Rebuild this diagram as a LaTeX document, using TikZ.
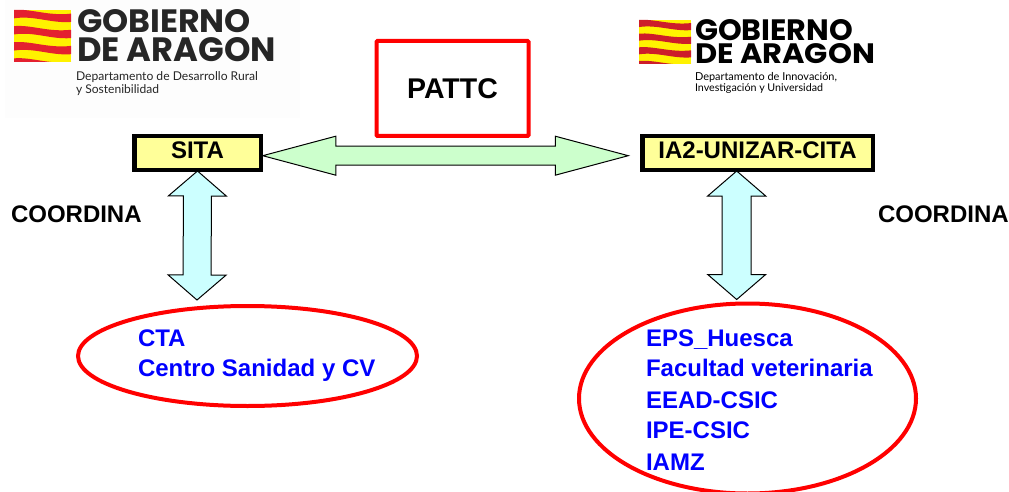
\documentclass[tikz,border=0pt]{standalone}
\usepackage{fontspec}
\usepackage{graphicx}
\setmainfont{Liberation Sans}
\newfontfamily\logofont{Poppins}
\newfontfamily\deptfont{Lato}
\usetikzlibrary{shapes.geometric, calc}

\definecolor{boxyellow}{HTML}{FFFF99}
\definecolor{arrowgreen}{HTML}{CCFFCC}
\definecolor{arrowcyan}{HTML}{CCFFFF}
\definecolor{logoyellow}{HTML}{FFF200}
\definecolor{logored}{HTML}{E4202F}
\definecolor{logoink}{HTML}{262626}
\definecolor{logopaper}{HTML}{FDFDFD}

% tip a, tip b, head length, half head, half shaft, fill
\newcommand{\blockarrow}[6]{
  \draw[black, line width=1pt, line join=miter, fill=#6] (#1)
    -- ($(#1)!#3!(#2)!#4!90:(#2)$) -- ($(#1)!#3!(#2)!#5!90:(#2)$)
    -- ($(#2)!#3!(#1)!#5!-90:(#1)$) -- ($(#2)!#3!(#1)!#4!-90:(#1)$)
    -- (#2)
    -- ($(#2)!#3!(#1)!#4!90:(#1)$) -- ($(#2)!#3!(#1)!#5!90:(#1)$)
    -- ($(#1)!#3!(#2)!#5!-90:(#2)$) -- ($(#1)!#3!(#2)!#4!-90:(#2)$)
    -- cycle;
}

% x, y, width, height, red
\newcommand{\logoflag}[5]{
  \begin{scope}[shift={(#1,#2)}, x=#3pt, y=-#4pt]
    \clip (0,0) rectangle (1,1);
    \fill[logoyellow] (0,0) rectangle (1,1);
    \foreach \o in {0,.31,.62,.93}{
      \fill[#5] (0,\o) .. controls (.3,\o-.03) and (.6,\o+.12) .. (1,\o+.07)
        -- (1,\o+.23) .. controls (.65,\o+.26) and (.35,\o+.1) .. (0,\o+.16) -- cycle;
    }
  \end{scope}
}

\begin{document}
\begin{tikzpicture}[
  x=1pt, y=-1pt,
  every node/.style={inner sep=0pt, outer sep=0pt},
  headbox/.style={rectangle, draw=black, line width=4.5pt, fill=boxyellow,
    font=\fontsize{24}{24}\selectfont\bfseries, text height=17.2pt, text depth=6pt},
  redoval/.style={ellipse, draw=red, line width=4pt},
  member/.style={anchor=base west, text=blue, font=\fontsize{24}{24}\selectfont\bfseries},
  sidelabel/.style={anchor=base west, font=\fontsize{24}{24}\selectfont\bfseries},
  logotitle/.style={anchor=base west, font=\logofont\bfseries\fontsize{30}{30}\selectfont},
  logodept/.style={anchor=base west, font=\deptfont\fontsize{11}{11}\selectfont}]

  \useasboundingbox (0,0) rectangle (1009,492);
  \fill[logopaper] (5,0) rectangle (300,118);

  % left logo
  \logoflag{14}{10}{57}{52}{logored}
  \node[logotitle, text=logoink] (gobL) at (77,33) {\resizebox{174pt}{23pt}{GOBIERNO}};
  \node[logotitle, text=logoink] (araL) at (77,62) {\resizebox{199pt}{24pt}{DE ARAGON}};
  \node[logodept, text=logoink] (depL1) at (76,81) {\resizebox{182pt}{!}{Departamento de Desarrollo Rural}};
  \node[logodept, text=logoink] (depL2) at (76,94) {\resizebox{83pt}{!}{y Sostenibilidad}};

  % right logo
  \logoflag{639}{20}{52}{44}{logored!90!black}
  \node[logotitle, text=black] (gobR) at (695,41) {\resizebox{158pt}{21pt}{GOBIERNO}};
  \node[logotitle, text=black] (araR) at (695,64) {\resizebox{180pt}{20pt}{DE ARAGON}};
  \node[logodept, text=black] (depR1) at (695,80.5) {\resizebox{142pt}{!}{Departamento de Innovación,}};
  \node[logodept, text=black] (depR2) at (695,92) {\resizebox{128pt}{!}{Investigación y Universidad}};

  \node[rectangle, draw=red, line width=4pt, minimum width=152pt, minimum height=95pt,
    rounded corners=1pt, font=\fontsize{28.5}{28.5}\selectfont\bfseries] (pattc) at (452.5,88.5) {PATTC};
  \node[headbox, minimum width=126.5pt, minimum height=34pt] (sita) at (197.5,153) {SITA};
  \node[headbox, minimum width=230.5pt, minimum height=34pt] (ia2) at (757.5,153) {IA2-UNIZAR-CITA};

  \node[sidelabel] (coordL) at (11,222) {COORDINA};
  \node[sidelabel] (coordR) at (878,222) {COORDINA};

  \node[redoval, minimum width=339pt, minimum height=100pt] (ovalL) at (247.5,356) {};
  \node[redoval, minimum width=337pt, minimum height=190pt] (ovalR) at (747.5,398.5) {};

  \node[member] (cta) at (138,346.7) {CTA};
  \node[member] (centro) at (138,376.7) {Centro Sanidad y CV};

  \node[member] (eps) at (646,346.7) {EPS\_Huesca};
  \node[member] (fac) at (646,376.7) {Facultad veterinaria};
  \node[member] (eead) at (646,408) {EEAD-CSIC};
  \node[member] (ipe) at (646,438) {IPE-CSIC};
  \node[member] (iamz) at (646,470) {IAMZ};

  \coordinate (linkL) at ($(sita.east)+(2,2.7)$);
  \coordinate (linkR) at ($(ia2.west)+(-14,2.7)$);
  \coordinate (sitaTop) at ($(sita.south)+(0,1)$);
  \coordinate (sitaBot) at ($(ovalL.north)+(-50.5,-6)$);
  \coordinate (iaTop) at ($(ia2.south)+(-20.8,1)$);
  \coordinate (iaBot) at ($(ovalR.north)+(-10.8,-4)$);

  \blockarrow{linkL}{linkR}{73pt}{19.5pt}{9.5pt}{arrowgreen}
  \blockarrow{sitaTop}{sitaBot}{25pt}{29pt}{14pt}{arrowcyan}
  \blockarrow{iaTop}{iaBot}{25pt}{29pt}{14.5pt}{arrowcyan}
\end{tikzpicture}
\end{document}
